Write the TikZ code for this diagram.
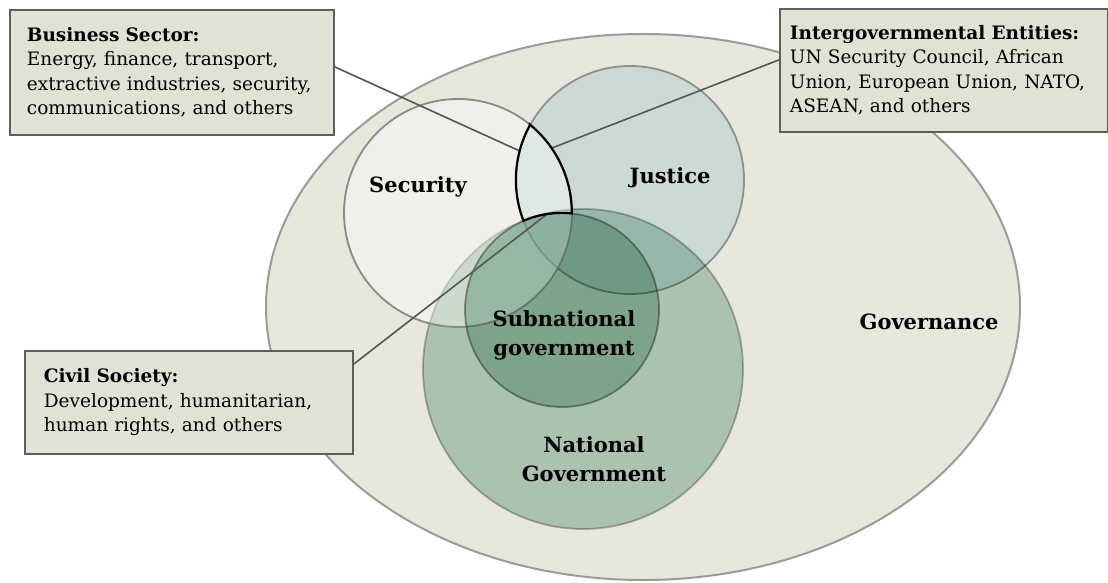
\documentclass[tikz,border=0pt]{standalone}
\usepackage{fontspec}
\setmainfont{DejaVu Serif}
\usetikzlibrary{positioning}

\definecolor{govfill}{HTML}{E7E7DC}
\definecolor{govline}{HTML}{9B9B9B}
\definecolor{jusfill}{HTML}{CCDAD6}
\definecolor{jusline}{HTML}{8D918C}
\definecolor{greenmul}{HTML}{BCD7CA}
\definecolor{natline}{HTML}{B9B9B9}
\definecolor{subline}{HTML}{A0A0A0}
\definecolor{secline}{HTML}{8A8A86}
\definecolor{boxfill}{HTML}{E2E2D4}
\definecolor{boxline}{HTML}{5E5E5E}
\definecolor{linkcol}{HTML}{555555}

\tikzset{
  infobox/.style={draw=boxline, line width=1.8pt, fill=boxfill, anchor=north west,
    align=left, inner ysep=4pt, font=\fontsize{18.5}{24.5}\selectfont},
  circlabel/.style={font=\bfseries\fontsize{21}{29}\selectfont, align=center, inner sep=1pt},
  link/.style={draw=linkcol, line width=1.6pt}
}

\begin{document}
\begin{tikzpicture}[x=1pt, y=1pt]
    \useasboundingbox (0,0) rectangle (1108,582);
    \path (643,275) coordinate (gov-c);
    \path (458,369) coordinate (sec-c);
    \path (630,402) coordinate (jus-c);
    \path (583,213) coordinate (nat-c);
    \path (562,272) coordinate (sub-c);

    % outer field
    \draw[line width=2pt, draw=govline, fill=govfill] (gov-c) ellipse[x radius=377, y radius=273];

    \draw[line width=1.8pt, draw=jusline, fill=jusfill] (jus-c) circle[radius=114];
    \begin{scope}[blend mode=multiply]
        \draw[line width=1.8pt, draw=natline, fill=greenmul] (nat-c) circle[radius=160];
    \end{scope}
    \draw[line width=1.8pt, draw=secline, fill=white, fill opacity=0.4] (sec-c) circle[radius=114];
    \begin{scope}[blend mode=multiply]
        \draw[line width=1.8pt, draw=subline, fill=greenmul] (sub-c) circle[radius=97];
    \end{scope}

    \node[circlabel] (security) at (418,395) {Security};
    \node[circlabel] (justice) at (670,404) {Justice};
    \node[circlabel] (subnat) at (564,247) {Subnational\\government};
    \node[circlabel] (national) at (594,123) {National\\Government};
    \node[circlabel] (governance) at (929,260) {Governance};

    % boxes
    \node[infobox, text width=290pt, inner xsep=17pt, minimum height=125pt] (business) at (9,573)
        {\textbf{Business Sector:}\\Energy, finance, transport,\\extractive industries, security,\\communications, and others};
    \node[infobox, text width=308pt, inner xsep=10pt, minimum height=123pt] (igo) at (779,574)
        {\textbf{Intergovernmental Entities:}\\UN Security Council, African\\Union, European Union, NATO,\\ASEAN, and others};
    \node[infobox, text width=290pt, inner xsep=19pt, minimum height=103pt] (civil) at (24,232)
        {\textbf{Civil Society:}\\Development, humanitarian,\\human rights, and others};

    \path (519.8,431) coordinate (biz-end);
    \path (552,434) coordinate (igo-end);
    \path (547,367.8) coordinate (civ-end);
    \draw[link] ([yshift=5.5pt]business.east) -- (biz-end);
    \draw[link] (igo-end) -- ([yshift=10.5pt]igo.west);
    \draw[link] ([yshift=-14pt]civil.north east) -- (civ-end);

    % shared area
    \path (530,457) coordinate (lens-top);
    \draw[line width=2.2pt] (lens-top) arc[start angle=151.2, end angle=201, radius=114]
        arc[start angle=113.3, end angle=84.1, radius=97]
        arc[start angle=-0.25, end angle=50.7, radius=114] -- cycle;
\end{tikzpicture}
\end{document}
